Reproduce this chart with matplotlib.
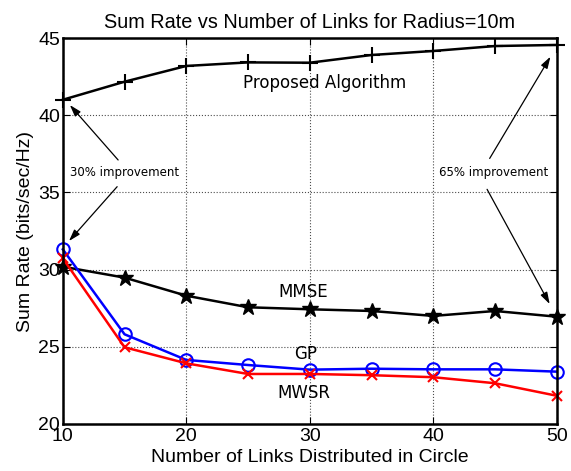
import numpy as np
import matplotlib.pyplot as plt

links = [10, 15, 20, 25, 30, 35, 40, 45, 50]
proposed = [41.0, 42.17, 43.19, 43.42, 43.4, 43.9, 44.16, 44.48, 44.55]
mmse = [30.19, 29.48, 28.31, 27.56, 27.43, 27.32, 27.0, 27.32, 26.95]
gp = [31.31, 25.81, 24.15, 23.82, 23.52, 23.58, 23.54, 23.54, 23.39]
mwsr = [30.73, 24.97, 23.93, 23.24, 23.24, 23.16, 23.03, 22.64, 21.83]

fig = plt.figure(figsize=(5.71, 4.71), dpi=100)
ax = fig.add_axes([0.110, 0.0998, 0.865, 0.8195])

ax.plot(links, proposed, 'k-', marker='+', ms=11, mew=1.5, lw=1.8, clip_on=False)
ax.plot(links, mmse, 'k-', marker='*', ms=12, mew=1.0, mec='k', lw=1.8, clip_on=False)
ax.plot(links, gp, 'b-', marker='o', ms=9, mew=1.5, mfc='none', lw=1.8, clip_on=False)
ax.plot(links, mwsr, 'r-', marker='x', ms=7, mew=1.5, lw=1.8, clip_on=False)

ax.set_xlim(10, 50)
ax.set_ylim(20, 45)
ax.set_xticks(np.arange(10, 51, 10))
ax.set_yticks(np.arange(20, 46, 5))
ax.grid(True, color='0.3', linestyle=':', linewidth=0.8)
ax.tick_params(direction='in', labelsize=14, length=5, top=True, right=True, pad=2)
ax.tick_params(axis='x', pad=3)
for lbl in ax.get_xticklabels() + ax.get_yticklabels():
    lbl.set_family('Liberation Sans')
for s in ax.spines.values():
    s.set_linewidth(1.8)

ax.set_title('Sum Rate vs Number of Links for Radius=10m', family='Liberation Sans', fontsize=14.3, pad=7)
ax.set_xlabel('Number of Links Distributed in Circle', family='Liberation Sans', fontsize=14, labelpad=3)
ax.set_ylabel('Sum Rate (bits/sec/Hz)', family='Liberation Sans', fontsize=14, labelpad=3)

ax.text(31.2, 42.1, 'Proposed Algorithm', fontsize=12, ha='center', va='center')
ax.text(29.5, 28.55, 'MMSE', fontsize=12, ha='center', va='center')
ax.text(29.7, 24.53, 'GP', fontsize=12, ha='center', va='center')
ax.text(29.5, 22.0, 'MWSR', fontsize=12, ha='center', va='center')
ax.text(15.0, 36.28, '30% improvement', fontsize=8.5, ha='center', va='center')
ax.text(44.9, 36.28, '65% improvement', fontsize=8.5, ha='center', va='center')

arrows = [((14.48, 37.1), (10.57, 40.66)),
          ((14.4, 35.37), (10.5, 31.85)),
          ((44.57, 37.2), (49.49, 43.79)),
          ((44.36, 35.2), (49.43, 27.77))]
for tail, head in arrows:
    ax.annotate('', xy=head, xytext=tail,
                arrowprops=dict(arrowstyle='-|>,head_length=0.7,head_width=0.22',
                                color='k', lw=0.9, shrinkA=0, shrinkB=0))

fig.savefig('out.png', dpi=100)
